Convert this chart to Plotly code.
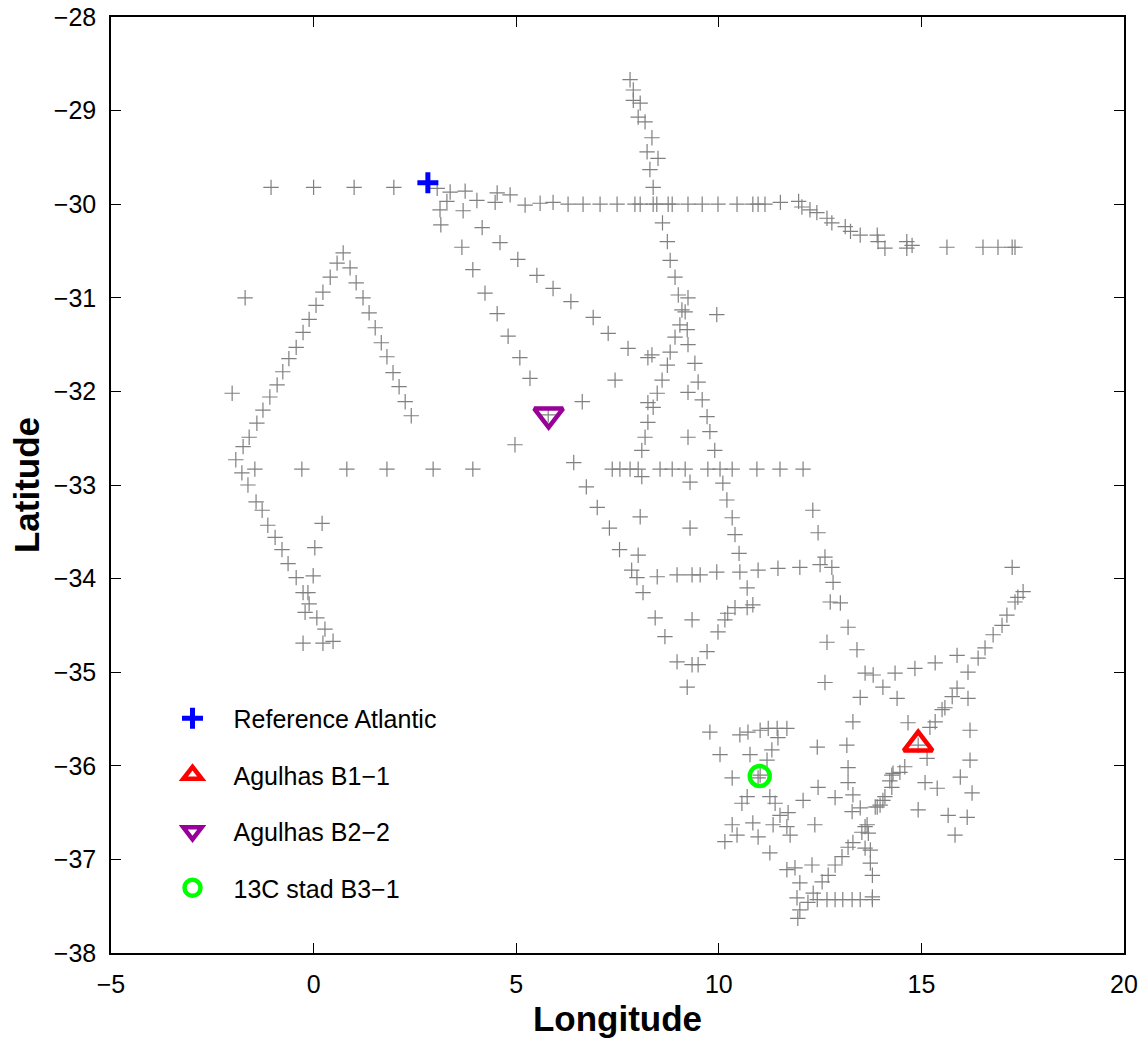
import plotly.graph_objects as go

# ---- gray station positions (lon, lat), grouped by cruise track ----
track_north_row = [(-1.05, -29.82), (0.0, -29.82), (1.0, -29.82), (1.98, -29.82),
    (3.05, -29.83), (3.37, -29.87), (3.74, -29.86), (3.29, -29.97), (3.69, -30.07),
    (3.12, -30.06), (3.14, -30.22), (4.03, -29.96), (4.53, -29.88), (4.85, -29.90),
    (4.48, -29.98), (5.22, -30.01), (5.59, -29.99), (5.91, -29.98),
    (6.28, -30.0), (6.65, -30.0), (7.07, -30.0), (7.49, -30.0), (7.93, -30.0),
    (8.06, -30.0), (8.38, -30.0), (8.47, -30.0), (8.75, -30.0), (8.85, -30.0),
    (9.24, -30.0), (9.59, -30.0), (9.98, -30.0), (10.45, -30.0), (10.84, -30.0),
    (10.97, -30.0), (11.14, -30.0), (11.52, -29.98), (11.97, -29.97),
    (12.05, -30.03), (12.25, -30.06), (12.42, -30.09), (12.67, -30.15), (12.79, -30.20),
    (13.12, -30.24), (13.25, -30.29), (13.49, -30.33), (13.91, -30.33), (13.93, -30.40),
    (14.10, -30.47), (14.64, -30.40), (14.77, -30.44), (14.64, -30.47), (15.63, -30.46),
    (16.52, -30.46), (16.89, -30.46), (17.24, -30.46), (17.31, -30.46)]

track_meridional = [(7.81, -28.67), (7.89, -28.78), (7.89, -28.89), (8.06, -28.92),
    (8.01, -29.07), (8.18, -29.12), (8.35, -29.29), (8.23, -29.44), (8.50, -29.51),
    (8.30, -29.63), (8.38, -29.82), (8.61, -30.20), (8.73, -30.40), (8.80, -30.60),
    (8.92, -30.78), (9.00, -30.97), (9.24, -31.00), (9.09, -31.13), (9.17, -31.15),
    (9.95, -31.18), (9.04, -31.29), (9.22, -31.34), (8.92, -31.42), (9.24, -31.50),
    (8.80, -31.58), (8.35, -31.61), (8.25, -31.64), (8.73, -31.72), (9.41, -31.70),
    (8.60, -31.88), (9.49, -31.90), (9.24, -32.01), (8.48, -32.02), (9.59, -32.09),
    (8.25, -32.12), (8.38, -32.17), (8.25, -32.33), (9.71, -32.27), (9.78, -32.43),
    (9.24, -32.49), (8.18, -32.49), (8.10, -32.63), (9.90, -32.63)]

track_diagonals = [(4.16, -30.25), (4.60, -30.41), (5.04, -30.59), (5.51, -30.76),
    (5.91, -30.90), (6.35, -31.04), (6.90, -31.21), (7.27, -31.38), (7.76, -31.54),
    (7.44, -31.88), (6.63, -32.11), (4.97, -32.57),
    (3.66, -30.46), (3.93, -30.70), (4.23, -30.95), (4.53, -31.17), (4.80, -31.41),
    (5.09, -31.64), (5.34, -31.86), (5.79, -32.25), (6.42, -32.76), (6.73, -33.02),
    (7.00, -33.24), (7.30, -33.46), (7.55, -33.69), (7.85, -33.91), (7.98, -33.99),
    (8.13, -34.15), (8.43, -34.42), (8.67, -34.62), (8.97, -34.89), (9.22, -35.16),
    (9.34, -34.92), (9.49, -34.92), (9.71, -34.78), (9.98, -34.57), (10.15, -34.44),
    (10.22, -34.37), (10.40, -34.31), (10.70, -34.31), (10.84, -34.28), (10.70, -34.10)]

track_row_33 = [(-1.45, -32.83), (-0.29, -32.83), (0.82, -32.83), (1.81, -32.83),
    (2.95, -32.83), (3.93, -32.83), (7.37, -32.83), (7.56, -32.83), (7.81, -32.83),
    (8.01, -32.83), (8.55, -32.83), (8.85, -32.83), (9.17, -32.83), (9.73, -32.83),
    (10.03, -32.83), (10.33, -32.83), (10.94, -32.83), (11.51, -32.83), (12.08, -32.83),
    (8.10, -32.91)]

track_central = [(8.06, -33.34), (8.01, -33.75), (8.48, -33.98), (8.97, -33.96),
    (9.34, -33.96), (9.54, -33.96), (9.95, -33.93), (10.52, -33.93), (10.97, -33.91),
    (11.46, -33.89), (12.00, -33.88), (12.50, -33.85), (12.62, -33.77), (12.79, -33.88),
    (12.82, -34.04), (12.32, -33.27), (12.45, -33.51), (12.75, -34.25), (13.00, -34.26),
    (13.19, -34.52), (13.41, -34.76), (12.67, -34.68), (12.62, -35.11), (9.29, -32.97),
    (10.10, -32.98), (10.20, -33.16), (10.33, -33.35), (10.40, -33.53), (10.50, -33.73),
    (9.29, -33.46), (9.34, -34.44), (13.61, -35.01), (13.81, -35.03), (14.35, -35.01),
    (14.05, -35.16), (13.49, -35.27), (14.40, -35.28), (15.88, -34.82), (15.34, -34.90),
    (14.84, -34.96), (14.67, -35.54), (17.24, -33.88)]

track_northeast = [(17.51, -34.14), (17.38, -34.20), (17.31, -34.25), (17.11, -34.39),
    (16.99, -34.50), (16.77, -34.60), (16.57, -34.74), (16.40, -34.85), (16.15, -35.00),
    (15.88, -35.17), (15.76, -35.26), (15.58, -35.38), (15.51, -35.40), (15.34, -35.53),
    (15.21, -35.59), (14.92, -35.78), (15.14, -35.92), (14.59, -36.01), (14.47, -36.07),
    (14.27, -36.10), (14.27, -36.23), (14.10, -36.33), (13.98, -36.42), (13.86, -36.44),
    (13.66, -36.63), (13.69, -36.72), (13.74, -36.90), (13.74, -37.04), (13.79, -37.17),
    (13.79, -37.40),
    (16.15, -35.28), (16.20, -35.62), (16.20, -35.94), (15.96, -36.12), (16.25, -36.29),
    (16.13, -36.55), (15.66, -36.53), (15.83, -36.74), (15.39, -36.24), (15.09, -36.18),
    (14.92, -36.47)]

track_cape_basin = [(9.78, -35.64), (10.52, -35.67), (10.72, -35.64), (11.02, -35.62),
    (11.22, -35.60), (11.44, -35.60), (11.68, -35.60), (11.46, -35.70), (11.31, -35.83),
    (11.19, -35.94), (10.03, -35.88), (10.77, -35.88), (11.02, -36.10), (10.33, -36.13),
    (10.97, -36.13), (10.70, -36.33), (10.57, -36.40), (11.26, -36.33), (11.39, -36.40),
    (11.51, -36.53), (11.71, -36.50), (10.33, -36.63), (10.84, -36.61), (11.34, -36.63),
    (11.68, -36.65), (11.76, -36.74), (10.45, -36.74), (10.15, -36.81), (10.97, -36.76),
    (11.26, -36.93), (11.68, -37.11), (11.88, -37.09), (12.30, -37.06), (12.00, -37.25),
    (11.93, -37.41), (12.20, -37.46), (12.00, -37.54), (11.95, -37.63), (12.43, -35.80),
    (13.16, -35.78), (13.31, -35.53), (13.19, -36.02), (13.19, -36.18), (13.31, -36.31),
    (12.45, -36.23), (12.08, -36.37), (12.87, -36.34), (12.37, -36.63), (13.29, -36.49),
    (13.49, -36.45), (13.61, -36.65), (13.61, -36.88),
    (12.43, -37.43), (12.67, -37.43), (12.87, -37.43), (13.06, -37.43), (13.29, -37.43),
    (13.49, -37.43), (13.79, -37.43),
    (12.33, -37.36), (12.55, -37.24), (12.70, -37.17), (12.87, -37.06), (13.04, -36.97),
    (13.19, -36.87), (13.31, -36.82), (13.53, -36.71), (13.91, -36.44), (14.05, -36.37),
    (14.22, -36.16), (14.30, -36.08)]

track_west = [(0.73, -30.52), (0.58, -30.63), (0.41, -30.78), (0.23, -30.94),
    (0.06, -31.08), (-0.11, -31.23), (-0.26, -31.37), (-0.43, -31.53), (-0.61, -31.65),
    (-0.76, -31.79), (-0.90, -31.93), (-1.08, -32.06), (-1.25, -32.20), (-1.40, -32.34),
    (-1.59, -32.49), (-1.74, -32.59), (-1.92, -32.73), (-1.77, -32.87), (-1.62, -33.00),
    (-1.42, -33.18), (-1.27, -33.27), (-1.13, -33.43), (-0.95, -33.56), (-0.78, -33.69),
    (-0.63, -33.84), (-0.43, -33.99), (-0.26, -34.15), (-0.14, -34.15), (-0.11, -34.27),
    (-0.21, -34.36), (0.08, -34.42), (0.28, -34.54), (0.23, -34.69), (0.48, -34.67),
    (-0.26, -34.69), (0.21, -33.41), (0.03, -33.67), (-0.01, -33.97),
    (0.90, -30.68), (1.05, -30.84), (1.22, -31.00), (1.37, -31.16), (1.52, -31.32),
    (1.67, -31.48), (1.81, -31.63), (1.96, -31.80), (2.11, -31.95), (2.26, -32.11),
    (2.41, -32.26), (-1.69, -31.00), (-2.01, -32.02)]

# ---- highlighted stations ----
ref_atlantic = (2.82, -29.77)
agulhas_b1 = (14.92, -35.77)
agulhas_b2 = (5.80, -32.25)
stad_b3 = (11.01, -36.11)

labels = ["Reference Atlantic", "Agulhas B1\u22121", "Agulhas B2\u22122", "13C stad B3\u22121"]

x_ticks = [-5, 0, 5, 10, 15, 20]
y_ticks = [-38, -37, -36, -35, -34, -33, -32, -31, -30, -29, -28]

all_tracks = (track_north_row + track_meridional + track_diagonals + track_row_33 +
              track_central + track_northeast + track_cape_basin + track_west)
gray_lon = [p[0] for p in all_tracks]
gray_lat = [p[1] for p in all_tracks]

fig = go.Figure()
fig.add_trace(go.Scatter(x=gray_lon, y=gray_lat, mode="markers", showlegend=False,
    marker=dict(symbol="cross-thin-open", size=11, color="rgb(128,128,128)",
                line=dict(width=1.2, color="rgb(128,128,128)"))))

specials = [
    (ref_atlantic, labels[0], "cross-thin-open", 15, "rgb(0,0,255)", 5),
    (agulhas_b1, labels[1], "triangle-up-open", 25, "rgb(255,0,0)", 4.5),
    (agulhas_b2, labels[2], "triangle-down-open", 25, "rgb(153,0,153)", 4.5),
    (stad_b3, labels[3], "circle-open", 20, "rgb(0,255,0)", 4.5),
]
for i, (pt, name, sym, sz, col, lw) in enumerate(specials):
    fig.add_trace(go.Scatter(x=[pt[0]], y=[pt[1]], mode="markers", name=name,
        legendgroup="g%d" % i,
        marker=dict(symbol=sym, size=sz, color=col, line=dict(width=lw, color=col))))

axis_common = dict(showline=True, linecolor="black", linewidth=1.5, mirror="ticks",
                   ticks="inside", ticklen=10, tickwidth=1.2, tickcolor="black",
                   showgrid=False, zeroline=False, automargin=False,
                   tickfont=dict(family="Liberation Sans, Arial", size=25, color="black"))

fig.update_layout(
    width=1148, height=1045,
    margin=dict(l=111, r=24, t=17, b=92),
    paper_bgcolor="white", plot_bgcolor="white",
    xaxis=dict(range=[-5, 20], tickvals=x_ticks, ticklabelstandoff=8,
               title=dict(text="<b>Longitude</b>", standoff=10,
                          font=dict(family="Liberation Sans, Arial", size=35, color="black")),
               **axis_common),
    yaxis=dict(range=[-38, -28], tickvals=y_ticks, ticklabelstandoff=8,
               title=dict(text="<b>Latitude</b>", standoff=4,
                          font=dict(family="Liberation Sans, Arial", size=35, color="black")),
               **axis_common),
    legend=dict(x=0.04, y=0.275, xanchor="left", yanchor="top",
                traceorder="grouped", tracegroupgap=21, itemwidth=72,
                bgcolor="rgba(255,255,255,0)",
                font=dict(family="Liberation Sans, Arial", size=25, color="black")),
)

fig.write_html("out.html")
